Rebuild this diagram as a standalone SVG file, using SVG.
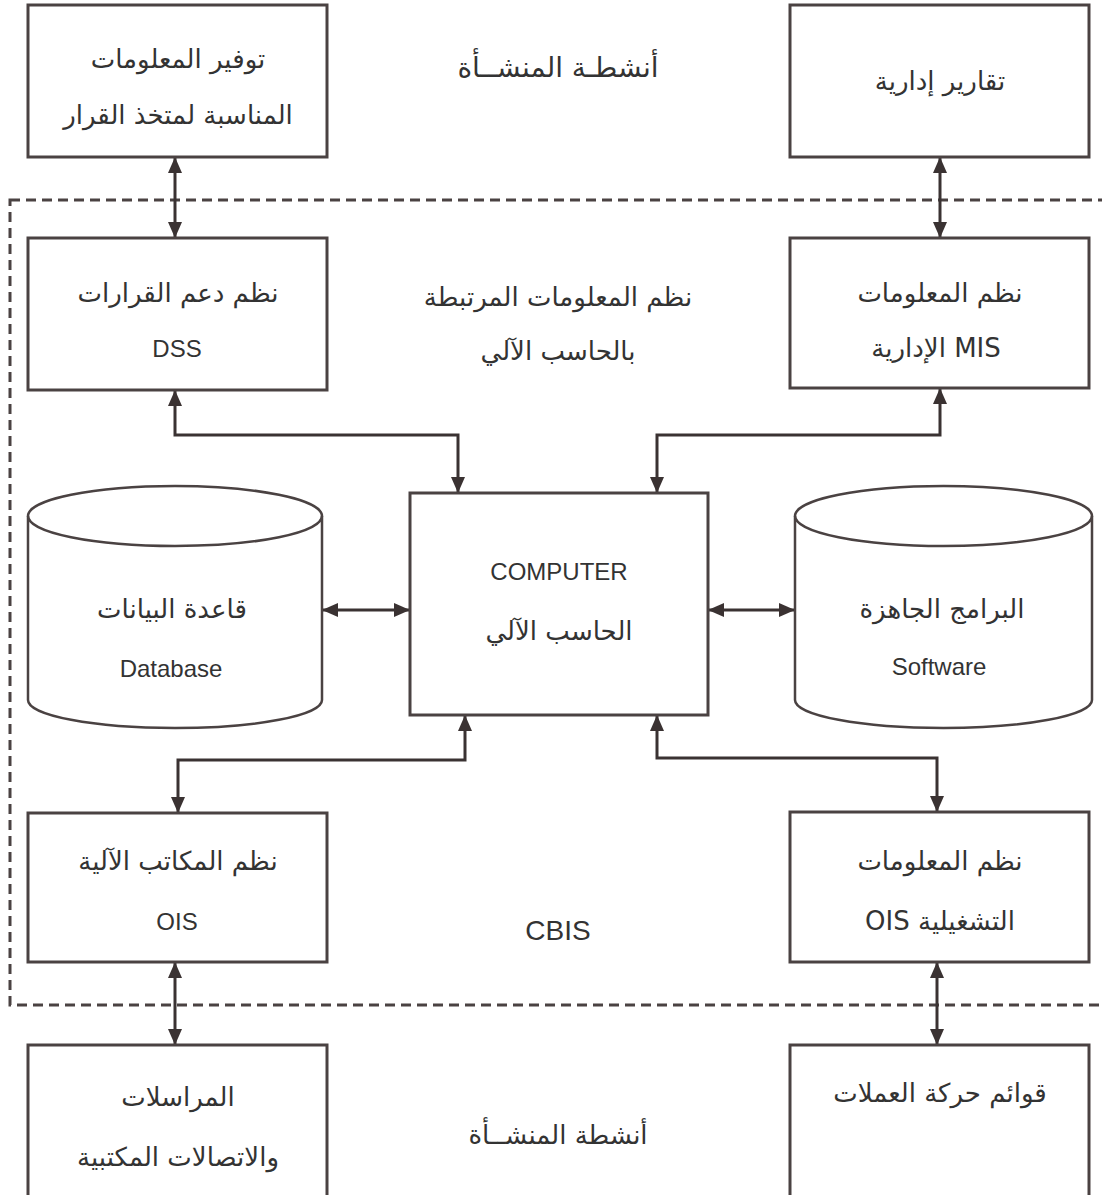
<svg xmlns="http://www.w3.org/2000/svg" width="1102" height="1195" viewBox="0 0 1102 1195">
  <defs>
    <marker id="arrow" markerUnits="userSpaceOnUse" markerWidth="16" markerHeight="14" refX="16" refY="7" orient="auto-start-reverse">
      <path d="M0,0 L16,7 L0,14 z" fill="#3a3232"/>
    </marker>
    <style>
      .box { fill: #ffffff; stroke: #4a4242; stroke-width: 3; }
      .cyl { fill: none; stroke: #4a4242; stroke-width: 2.5; }
      .edge { fill: none; stroke: #3a3232; stroke-width: 3; marker-start: url(#arrow); marker-end: url(#arrow); }
      .frame { fill: none; stroke: #4a4242; stroke-width: 3; stroke-dasharray: 10 6; }
      .ar { font-family: "DejaVu Sans", "Noto Sans", sans-serif; font-size: 26px; fill: #333333; text-anchor: middle; direction: rtl; }
      .la { font-family: "Liberation Sans", Arial, sans-serif; font-size: 24px; fill: #333333; text-anchor: middle; }
    </style>
  </defs>
  <rect width="1102" height="1195" fill="#ffffff"/>

  <!-- CBIS boundary -->
  <rect id="cbis-frame" class="frame" x="10" y="200" width="1110" height="805"/>

  <!-- connectors -->
  <g id="connectors">
    <line class="edge" x1="175" y1="157" x2="175" y2="238"/>
    <line class="edge" x1="940" y1="157" x2="940" y2="238"/>
    <path class="edge" d="M175,390 V435 H458 V493"/>
    <path class="edge" d="M940,388 V435 H657 V493"/>
    <path class="edge" d="M322,610 H410"/>
    <path class="edge" d="M708,610 H795"/>
    <path class="edge" d="M465,715 V760 H178 V813"/>
    <path class="edge" d="M657,715 V758 H937 V812"/>
    <line class="edge" x1="175" y1="962" x2="175" y2="1045"/>
    <line class="edge" x1="937" y1="962" x2="937" y2="1045"/>
  </g>

  <g id="decision-info">
    <rect class="box" x="28" y="5" width="299" height="152"/>
    <text class="ar" x="178" y="68">توفير المعلومات</text>
    <text class="ar" x="178" y="124">المناسبة لمتخذ القرار</text>
  </g>

  <g id="mgmt-reports">
    <rect class="box" x="790" y="5" width="299" height="152"/>
    <text class="ar" x="940" y="90">تقارير إدارية</text>
  </g>

  <g id="org-activities-top">
    <text class="ar" x="558" y="77" style="font-size:28px">أنشطـة المنشــأة</text>
  </g>

  <g id="dss">
    <rect class="box" x="28" y="238" width="299" height="152"/>
    <text class="ar" x="178" y="302">نظم دعم القرارات</text>
    <text class="la" x="177" y="357">DSS</text>
  </g>

  <g id="cbis-title">
    <text class="ar" x="558" y="306">نظم المعلومات المرتبطة</text>
    <text class="ar" x="558" y="360">بالحاسب الآلي</text>
  </g>

  <g id="mis">
    <rect class="box" x="790" y="238" width="299" height="150"/>
    <text class="ar" x="940" y="302">نظم المعلومات</text>
    <text class="ar" x="936" y="357">MIS الإدارية</text>
  </g>

  <g id="database">
    <path class="cyl" d="M28,516 V700 A147,28 0 0 0 322,700 V516"/>
    <ellipse class="cyl" cx="175" cy="516" rx="147" ry="30" fill="#ffffff"/>
    <text class="ar" x="172" y="618">قاعدة البيانات</text>
    <text class="la" x="171" y="677">Database</text>
  </g>

  <g id="computer">
    <rect class="box" x="410" y="493" width="298" height="222"/>
    <text class="la" x="559" y="580">COMPUTER</text>
    <text class="ar" x="559" y="640">الحاسب الآلي</text>
  </g>

  <g id="software">
    <path class="cyl" d="M795,516 V700 A148.5,28 0 0 0 1092,700 V516"/>
    <ellipse class="cyl" cx="943.5" cy="516" rx="148.5" ry="30" fill="#ffffff"/>
    <text class="ar" x="942" y="618">البرامج الجاهزة</text>
    <text class="la" x="939" y="675">Software</text>
  </g>

  <g id="office-auto">
    <rect class="box" x="28" y="813" width="299" height="149"/>
    <text class="ar" x="178" y="870">نظم المكاتب الآلية</text>
    <text class="la" x="177" y="930">OIS</text>
  </g>

  <g id="cbis-label">
    <text class="la" x="558" y="940" style="font-size:28px">CBIS</text>
  </g>

  <g id="operational">
    <rect class="box" x="790" y="812" width="299" height="150"/>
    <text class="ar" x="940" y="870">نظم المعلومات</text>
    <text class="ar" x="940" y="930">التشغيلية OIS</text>
  </g>

  <g id="correspondence">
    <rect class="box" x="28" y="1045" width="299" height="160"/>
    <text class="ar" x="178" y="1106">المراسلات</text>
    <text class="ar" x="178" y="1166">والاتصالات المكتبية</text>
  </g>

  <g id="org-activities-bottom">
    <text class="ar" x="558" y="1144">أنشطة المنشــأة</text>
  </g>

  <g id="currency-lists">
    <rect class="box" x="790" y="1045" width="299" height="160"/>
    <text class="ar" x="940" y="1102">قوائم حركة العملات</text>
  </g>
</svg>
